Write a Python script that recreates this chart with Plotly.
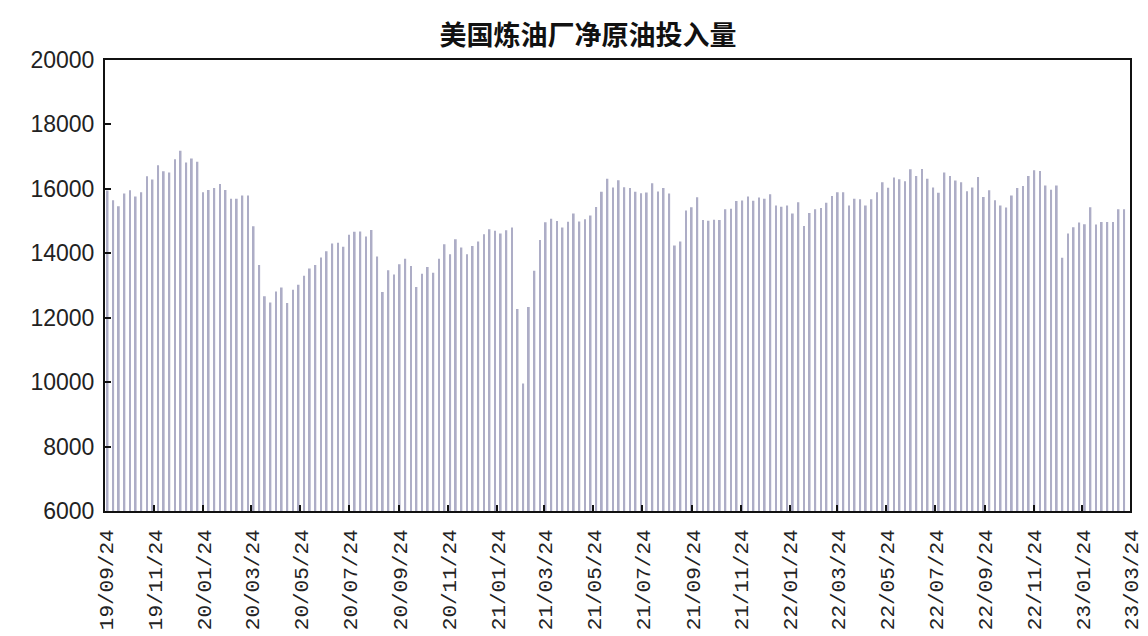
import plotly.graph_objects as go
import pandas as pd

title_text = "美国炼油厂净原油投入量"
first_week = "2019-09-27"
axis_start = "2019-09-24"
axis_end = "2023-03-24"

crude_input = [
    15950, 15650, 15460, 15855, 15955, 15760, 15895, 16390, 16290, 16730,
    16550, 16510, 16920, 17180, 16820, 16940, 16840, 15895, 15965, 16030,
    16150, 15965, 15690, 15690, 15790, 15790, 14840, 13640, 12670, 12470,
    12810, 12935, 12460, 12870, 13020, 13300, 13530, 13640, 13870, 14065,
    14300, 14325, 14200, 14575, 14665, 14680, 14520, 14725, 13900, 12800,
    13470, 13345, 13657, 13834, 13605, 12950, 13366, 13574, 13397, 13834,
    14280, 13969, 14436, 14176, 13969, 14228, 14363, 14592, 14748, 14696,
    14613, 14717, 14800, 12270, 9960, 12335, 13455, 14410, 14965, 15070,
    15000, 14800, 14978, 15236, 14988, 15055, 15175, 15440, 15910, 16310,
    16040, 16270, 16050, 16030, 15910, 15860, 15890, 16175, 15920, 16030,
    15855, 14245, 14365, 15330, 15430, 15740, 15030, 15010, 15040, 15030,
    15365, 15380, 15620, 15640, 15760, 15630, 15730, 15690, 15835, 15485,
    15445, 15485, 15236, 15585, 14850, 15250, 15365, 15405, 15570, 15780,
    15895, 15895, 15485, 15690, 15675, 15485, 15675, 15895, 16205, 16035,
    16355, 16295, 16240, 16605, 16400, 16620, 16310, 16040, 15880, 16505,
    16400, 16258, 16205, 15925, 16040, 16370, 15750, 15960, 15650, 15485,
    15422, 15795, 16030, 16090, 16400, 16580, 16555, 16105, 15975, 16105,
    13860, 14617, 14812, 14952, 14900, 15430, 14890, 14968, 14968, 14968,
    15365, 15365,
]

week_dates = pd.date_range(first_week, periods=len(crude_input), freq="7D")
tick_dates = pd.date_range(axis_start, axis_end, freq=pd.DateOffset(months=2))
tick_labels = [d.strftime("%y/%m/%d") for d in tick_dates]
y_ticks = [6000, 8000, 10000, 12000, 14000, 16000, 18000, 20000]

DAY_MS = 86400000
range_lo = pd.Timestamp(axis_start) - pd.Timedelta(hours=6)
range_hi = pd.Timestamp(axis_end) + pd.Timedelta(hours=6)

fig = go.Figure(
    go.Bar(
        x=week_dates,
        y=crude_input,
        width=2.2 * DAY_MS,
        marker=dict(color="#adadc6", line=dict(width=0)),
        hoverinfo="x+y",
    )
)

fig.update_layout(
    width=1148,
    height=636,
    margin=dict(l=105, r=18, t=60, b=125),
    paper_bgcolor="white",
    plot_bgcolor="white",
    showlegend=False,
    title=dict(
        text="<b>" + title_text + "</b>",
        font=dict(family="Noto Sans CJK SC", size=27, color="#111"),
        x=588 / 1148,
        xref="container",
        xanchor="center",
        y=1 - 36 / 636,
        yref="container",
        yanchor="middle",
    ),
    xaxis=dict(
        type="date",
        range=[range_lo, range_hi],
        tickvals=tick_dates,
        ticktext=tick_labels,
        tickangle=-90,
        ticks="inside",
        ticklen=6,
        tickwidth=1.5,
        tickcolor="#111",
        showline=True,
        linecolor="#111",
        linewidth=2,
        mirror=True,
        showgrid=False,
        zeroline=False,
        automargin=False,
        tickfont=dict(family="Liberation Mono", size=21, color="#222"),
        ticklabelshift=1,
        ticklabelstandoff=8,
        ticklabeloverflow="allow",
    ),
    yaxis=dict(
        range=[6000, 20000],
        tickvals=y_ticks,
        tickformat="d",
        ticks="inside",
        ticklen=6,
        tickwidth=1.5,
        tickcolor="#111",
        showline=True,
        linecolor="#111",
        linewidth=2,
        mirror=True,
        showgrid=False,
        zeroline=False,
        automargin=False,
        tickfont=dict(family="Liberation Sans", size=23, color="#222"),
        ticklabelstandoff=4,
    ),
)

fig.write_html("out.html")
